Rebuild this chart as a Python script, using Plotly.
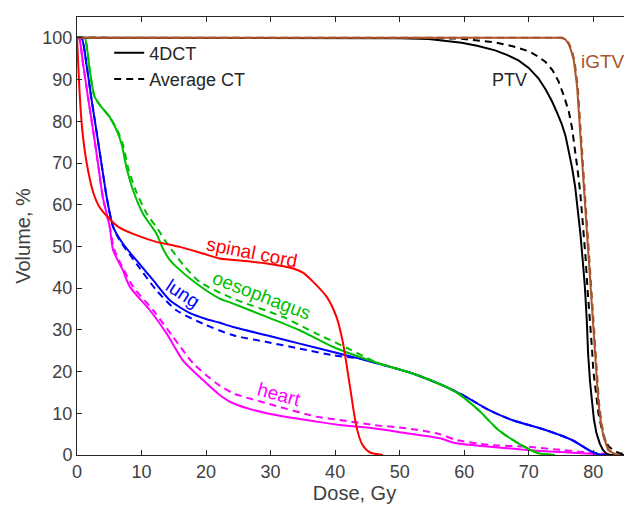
import plotly.graph_objects as go

# ---- data (dose in Gy, volume in %) ----
SC_D = [0, 0.3, 0.6, 0.95, 1.5, 2.5, 3.5, 5.1, 6.4, 9.2, 12.3, 15.9, 19.5, 22.1, 26.0, 29.4, 33.5, 35.0, 36.6, 38.7, 40.2, 41.2, 42.3, 43.3, 44.2, 45.4, 47.4]
SC_V = [100, 90, 82, 76, 70, 63, 59.4, 56.5, 54.7, 52.7, 51.1, 49.9, 48.3, 47.1, 46.5, 45.9, 44.7, 43.7, 41.5, 37.9, 33.1, 27, 16.4, 6.8, 2.5, 0.6, 0]

OE_D = [0, 0.8, 1.2, 2.0, 2.7, 3.5, 5.07, 6.1, 6.9, 7.66, 8.7, 10.2, 12.3, 13.3, 14.4, 15.4, 18.5, 22.1, 24.2, 29.4, 34.5, 39.7, 43.8, 46.7, 51.9, 58.6, 62.2, 65.3, 68.4, 71.5, 74.1]
OE_V = [100, 100, 100, 92, 86, 84, 81, 78, 74.6, 69, 63.4, 57.9, 53.1, 49.5, 46.7, 45.1, 41.1, 37.5, 36.3, 33.1, 29.9, 25.9, 23.5, 22, 19.6, 15.2, 10.8, 6, 2.8, 0.4, 0]
OEd_D = [0, 0.8, 1.2, 2.0, 2.7, 3.5, 5.07, 6.2, 7.1, 7.9, 9.1, 10.8, 12.6, 13.6, 15.0, 16.5, 19.0, 24.2, 31.9, 37.1, 42.3, 46.7, 51.9, 58.6, 62.2, 65.3, 68.4, 71.5, 74.1]
OEd_V = [100, 100, 100, 92, 86, 84, 81, 78, 74.6, 69, 63.4, 57.9, 54.0, 51.5, 48.5, 45.5, 41.5, 37.5, 33.1, 29.1, 25.3, 22, 19.6, 15.2, 10.8, 6, 2.8, 0.4, 0]

LU_D = [0, 0.7, 1.45, 2.2, 3.0, 3.8, 4.6, 5.6, 7.1, 9.2, 11.8, 14.4, 17.5, 20.0, 22.1, 24.2, 29.4, 34.5, 39.7, 43.8, 46.7, 51.9, 57.1, 60.2, 63.8, 67.4, 72.6, 76.7, 79.3, 80.8, 86]
LU_V = [100, 100, 93.8, 85.8, 77.8, 69.8, 61.8, 54.7, 50.7, 46.7, 41.9, 37.1, 34.0, 32.6, 31.7, 30.7, 28.7, 26.7, 24.7, 23.1, 21.9, 19.6, 16.4, 14.0, 10.8, 8.4, 6.0, 3.6, 1.2, 0.2, 0]
LUd_D = [0, 0.7, 1.45, 2.2, 3.0, 3.8, 4.6, 5.6, 6.6, 9.2, 12.3, 15.4, 19.5, 24.2, 29.4, 34.5, 39.7, 43.8, 46.7, 51.9, 57.1, 60.2, 63.8, 67.4, 72.6, 76.7, 79.3, 80.8, 86]
LUd_V = [100, 100, 93.8, 85.8, 77.8, 69.8, 61.8, 54.7, 51.5, 45.9, 39.5, 34.7, 31.5, 28.7, 27.1, 25.5, 23.9, 23.1, 21.9, 19.6, 16.4, 14.0, 10.8, 8.4, 6.0, 3.6, 1.2, 0.2, 0]

HE_D = [0, 0.3, 0.93, 1.7, 2.5, 3.26, 4.0, 5.07, 5.6, 7.1, 8.2, 11.3, 13.9, 16.4, 19.5, 22.1, 24.2, 29.4, 37.1, 40.7, 45.9, 51.1, 56.2, 58.8, 64, 69.7, 75, 80.3, 82]
HE_V = [100, 100, 93.8, 85.8, 77.8, 69.8, 61.8, 54.7, 49.1, 44.3, 40.3, 34.7, 29.1, 22.7, 18, 14.4, 12.4, 10.0, 8.0, 7.2, 6.4, 5.2, 4.0, 2.8, 2.0, 1.2, 0.7, 0.24, 0]
HEd_D = [0, 0.3, 0.93, 1.7, 2.5, 3.26, 4.0, 5.07, 5.8, 7.3, 8.7, 11.8, 14.9, 18, 21.6, 24.2, 29.4, 37.1, 40.7, 45.9, 51.1, 56.2, 58.8, 64, 69.7, 75.1, 77.7, 82.9, 85]
HEd_V = [100, 100, 93.8, 85.8, 77.8, 69.8, 61.8, 54.7, 49.1, 44.3, 40.3, 34.7, 28.3, 22, 17.2, 14.8, 12.4, 9.2, 8.4, 7.2, 6.4, 5.0, 3.6, 2.4, 2.0, 1.2, 0.8, 0.2, 0]

PTV_D = [0, 45, 50, 54.5, 57, 59.6, 62, 64.8, 66.8, 68.4, 70, 71.5, 72.6, 73.6, 74.4, 75.1, 75.7, 76.2, 76.7, 77.2, 77.6, 78.0, 78.4, 78.7, 79.0, 79.2, 79.5, 79.8, 80.1, 80.5, 81.0, 81.5, 82.0, 82.6, 86]
PTV_V = [100, 100, 99.9, 99.7, 99.3, 98.8, 98.1, 97.0, 95.8, 94.6, 92.8, 90.3, 87.7, 84.8, 82, 79.4, 76.5, 73, 69, 64.2, 59, 53.1, 46, 40.3, 32, 24.3, 17.5, 12.4, 8.5, 5.2, 2.8, 1.2, 0.4, 0, 0]
PTVd_D = [0, 50, 55, 59.6, 62, 64.8, 67.5, 70, 71.5, 72.6, 73.7, 74.6, 75.4, 76.2, 76.7, 77.2, 77.6, 78.0, 78.3, 78.5, 78.8, 79.1, 79.5, 79.8, 80.0, 80.4, 80.8, 81.3, 81.8, 82.4, 83.1, 84.1, 85.7]
PTVd_V = [100, 100, 99.95, 99.8, 99.4, 98.9, 98.0, 96.8, 95.5, 94.2, 92.2, 89.6, 86.3, 82.4, 78.5, 73, 68, 62.6, 57.5, 53.1, 47.5, 40, 32.3, 25.5, 20.3, 14.5, 10, 6.3, 3.6, 2.0, 1.2, 0.4, 0]

IG_D = [0, 75.1, 75.7, 76.2, 76.6, 77.0, 77.5, 78.0, 78.5, 79.0, 79.4, 79.8, 80.1, 80.4, 80.8, 81.2, 81.6, 82.3, 83.1, 84]
IG_V = [100, 100, 99.6, 98.5, 96.8, 94.5, 88.2, 77, 65, 54, 46, 37, 29, 21, 12.4, 7.5, 4.4, 1.2, 0.4, 0]
IGd_D = [0, 75.2, 75.8, 76.3, 76.7, 77.1, 77.6, 78.1, 78.6, 79.1, 79.5, 79.9, 80.2, 80.5, 80.9, 81.3, 81.7, 82.4, 83.2, 84.1]
IGd_V = IG_V

X_TICKS = [0, 10, 20, 30, 40, 50, 60, 70, 80]
Y_TICKS = [0, 10, 20, 30, 40, 50, 60, 70, 80, 90, 100]

RED = "#FF0000"
GREEN = "#00BF00"
BLUE = "#0000FF"
MAG = "#FF00FF"
BROWN = "#A8552D"
DASH = "7px,5px"
LW = 2

fig = go.Figure()

def add(x, y, color, dash=None, name=None, legend=False, shape="spline"):
    line = dict(color=color, width=LW, dash=dash if dash else "solid", shape=shape)
    if shape == "spline":
        line["smoothing"] = 0.7
    fig.add_trace(go.Scatter(
        x=x, y=y, mode="lines", name=name or "", line=line,
        showlegend=legend, hoverinfo="skip"))

add(HEd_D, HEd_V, MAG, DASH)
add(HE_D, HE_V, MAG)
add(LUd_D, LUd_V, BLUE, DASH)
add(LU_D, LU_V, BLUE)
add(OEd_D, OEd_V, GREEN, DASH)
add(OE_D, OE_V, GREEN)
add(SC_D, SC_V, RED)
add(PTV_D, PTV_V, "black", None, "4DCT", True, "linear")
add(PTVd_D, PTVd_V, "black", DASH, "Average CT", True, "linear")
add(IG_D, IG_V, BROWN, None, None, False, "linear")
add(IGd_D, IGd_V, BROWN, DASH, None, False, "linear")

FONT = "Liberation Sans, Arial, sans-serif"
AX = "#262626"
TXT = "#404040"

def label(x, y, text, color, angle=0, size=19):
    fig.add_annotation(x=x, y=y, text=text, showarrow=False, textangle=angle,
                       font=dict(family=FONT, size=size, color=color),
                       xref="x", yref="y")

label(27.1, 48.6, "spinal cord", RED, 11)
label(28.6, 38.3, "oesophagus", GREEN, 21)
label(16.4, 38.8, "lung", BLUE, 33)
label(31.3, 14.4, "heart", MAG, 15)
label(67.0, 89.8, "PTV", "#262626", 0, 18)
label(81.5, 94.3, "iGTV", BROWN, 0)

axis_common = dict(
    showgrid=False, zeroline=False, showline=True, linecolor=AX, linewidth=1,
    mirror="ticks", ticks="inside", ticklen=5, tickcolor=AX, tickwidth=1,
    tickfont=dict(family=FONT, size=18, color=TXT),
)

fig.update_layout(
    width=632, height=511,
    margin=dict(l=69, r=8, t=9, b=64),
    paper_bgcolor="white", plot_bgcolor="white",
    font=dict(family=FONT, size=18, color=TXT),
    xaxis=dict(range=[0, 86], tickvals=X_TICKS,
               title=dict(text="Dose, Gy", standoff=4, font=dict(family=FONT, size=20, color=TXT)),
               **axis_common),
    yaxis=dict(range=[0, 105], tickvals=Y_TICKS,
               title=dict(text="Volume, %", standoff=6, font=dict(family=FONT, size=20, color=TXT)),
               **axis_common),
    legend=dict(x=0.058, y=0.96, xanchor="left", yanchor="top",
                bgcolor="rgba(0,0,0,0)", borderwidth=0,
                font=dict(family=FONT, size=18, color="#262626"),
                tracegroupgap=0, itemwidth=30),
)

fig.write_html("out.html")
